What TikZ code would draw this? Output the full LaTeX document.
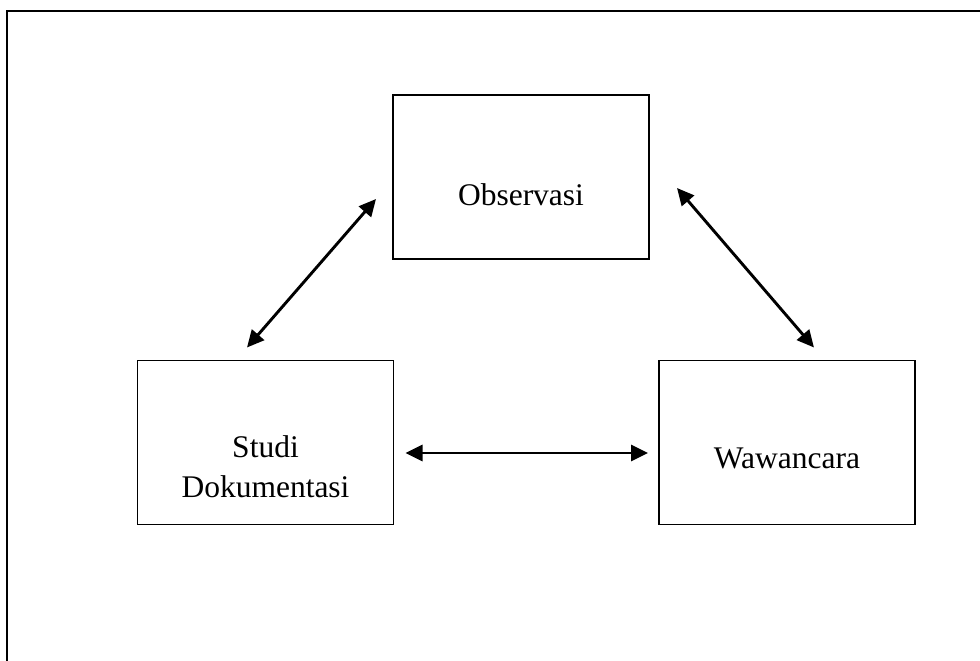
\documentclass[tikz,border=0pt]{standalone}
\usepackage{fontspec}
\setmainfont{Liberation Serif}
\usetikzlibrary{arrows.meta,calc}
\begin{document}
\begin{tikzpicture}[x=1pt,y=-1pt,
  box/.style={draw,line width=1.4pt,minimum width=256pt,minimum height=164pt,inner sep=0pt,outer sep=0pt},
  lbl/.style={font=\fontsize{31.5}{40}\selectfont,align=center,inner sep=0pt,anchor=base},
  link/.style={line width=2.9pt,{Triangle[length=17pt,width=16pt]}-{Triangle[length=17pt,width=16pt]}}]
\useasboundingbox (0,0) rectangle (980,661);
% frame (only top and left visible)
\draw[line width=2pt] (7.3,700) -- (7.3,11) -- (1000,11);
% boxes
\node[box] (obs) at (521,177) {};
\node[box] (stu) at (265.5,442.5) {};
\node[box] (waw) at (787,442.5) {};
% labels
\node[lbl] (tobs) at ($(obs.center)+(0,28)$) {Observasi};
\node[lbl] (tstu1) at ($(stu.center)+(0,14.5)$) {Studi};
\node[lbl] (tstu2) at ($(stu.center)+(0,54.5)$) {Dokumentasi};
\node[lbl] (twaw) at ($(waw.center)+(0,25.5)$) {Wawancara};
% arrow end points
\coordinate (a1) at ($(stu.north)+(-18.5,-13)$);
\coordinate (a2) at ($(obs.west)+(-17,22)$);
\coordinate (b1) at ($(obs.east)+(28,11)$);
\coordinate (b2) at ($(waw.north)+(27,-13)$);
\coordinate (c1) at ($(stu.east)+(12,10.5)$);
\coordinate (c2) at ($(waw.west)+(-11,10.5)$);
\draw[link] (a1) -- (a2);
\draw[link] (b1) -- (b2);
\draw[link] (c1) -- (c2);
\end{tikzpicture}
\end{document}
